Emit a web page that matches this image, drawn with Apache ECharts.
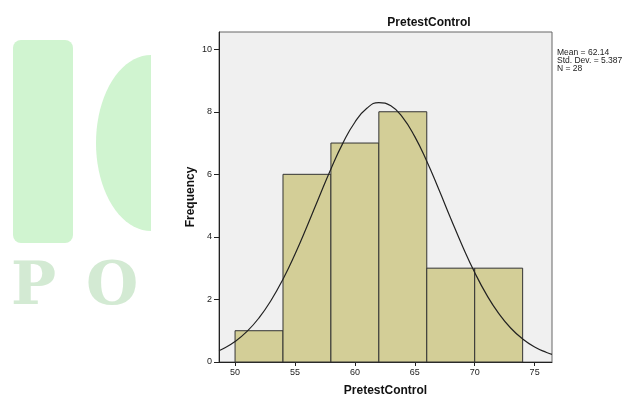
<!DOCTYPE html>
<html>
<head>
<meta charset="utf-8">
<script src="https://cdn.jsdelivr.net/npm/echarts@6/dist/echarts.min.js"></script>
<style>
html,body{margin:0;padding:0;background:#fff;}
#c{width:625px;height:396px;}
</style>
</head>
<body>
<div id="c"></div>
<script>
// Histogram bins
var binStart = [50, 54, 58, 62, 66, 70];
var binEnd   = [54, 58, 62, 66, 70, 74];
var frequency = [1, 6, 7, 8, 3, 3];
// Normal curve
var curveX = [48.66, 49, 50, 51, 52, 53, 54, 55, 56, 57, 58, 59, 60, 61, 62, 63, 64, 65, 66, 67, 68, 69, 70, 71, 72, 73, 74, 75, 76, 76.45];
var curveY = [0.363, 0.423, 0.655, 0.978, 1.411, 1.966, 2.648, 3.446, 4.332, 5.261, 6.173, 6.998, 7.665, 8.111, 8.292, 8.189, 7.814, 7.204, 6.417, 5.521, 4.590, 3.687, 2.861, 2.145, 1.554, 1.087, 0.735, 0.480, 0.303, 0.243];
var xTicks = [50, 55, 60, 65, 70, 75];
var yTicks = [0, 2, 4, 6, 8, 10];
var statsLines = ['Mean = 62.14', 'Std. Dev. = 5.387', 'N = 28'];

var barData = binStart.map(function (s, i) { return [s, binEnd[i], frequency[i]]; });
var curveData = curveX.map(function (x, i) { return [x, curveY[i]]; });

// decorative watermark half-ellipse outline
var wmPts = [];
for (var k = 0; k <= 40; k++) {
  var a = Math.PI / 2 + Math.PI * k / 40;
  wmPts.push([151 + 55 * Math.cos(a), 143 - 88 * Math.sin(a)]);
}

var chart = echarts.init(document.getElementById('c'));
var font = 'Liberation Sans, Arial, sans-serif';
chart.setOption({
  animation: false,
  backgroundColor: '#ffffff',
  title: {
    text: 'PretestControl',
    left: 424, top: 12, textAlign: 'center',
    textStyle: { fontFamily: font, fontSize: 12, fontWeight: 'bold', color: '#111' }
  },
  grid: {
    left: 219, right: 73, top: 32, bottom: 34,
    containLabel: false, outerBoundsMode: 'none',
    show: true, backgroundColor: '#f0f0f0', borderColor: '#666', borderWidth: 1
  },
  xAxis: {
    type: 'value', min: 48.66, max: 76.45,
    name: 'PretestControl', nameLocation: 'middle', nameGap: 23, nameMoveOverlap: false,
    nameTextStyle: { fontFamily: font, fontSize: 12, fontWeight: 'bold', color: '#111' },
    axisLine: { show: true, lineStyle: { color: '#222', width: 1 } },
    axisTick: { show: true, length: 4, lineStyle: { color: '#222' }, customValues: xTicks },
    axisLabel: { fontFamily: font, fontSize: 9, color: '#222', margin: 6, customValues: xTicks },
    splitLine: { show: false }
  },
  yAxis: {
    type: 'value', min: 0, max: 10.55,
    name: 'Frequency', nameLocation: 'middle', nameGap: 22, nameMoveOverlap: false,
    nameTextStyle: { fontFamily: font, fontSize: 12, fontWeight: 'bold', color: '#111' },
    axisLine: { show: true, lineStyle: { color: '#222', width: 1 } },
    axisTick: { show: true, length: 5, lineStyle: { color: '#222' }, customValues: yTicks },
    axisLabel: { fontFamily: font, fontSize: 9, color: '#222', margin: 7, customValues: yTicks },
    splitLine: { show: false }
  },
  graphic: [
    { type: 'rect', shape: { x: 13, y: 40, width: 60, height: 203, r: 8 }, style: { fill: '#d0f4d0' }, z: -10 },
    { type: 'polygon', shape: { points: wmPts }, style: { fill: '#d0f4d0' }, z: -10 },
    { type: 'text', left: 11, top: 258, style: { text: 'P', fontFamily: 'DejaVu Serif', fontWeight: 'bold', fontSize: 60, fill: '#d3ead3' }, z: -10 },
    { type: 'text', left: 86, top: 258, style: { text: 'O', fontFamily: 'DejaVu Serif', fontWeight: 'bold', fontSize: 60, fill: '#d3ead3' }, z: -10 },
    { type: 'text', left: 557, top: 48, style: { text: statsLines.join('\n'), fontFamily: font, fontSize: 8.5, lineHeight: 8, fill: '#222' } }
  ],
  series: [
    {
      type: 'custom',
      data: barData,
      encode: { x: [0, 1], y: 2 },
      renderItem: function (params, api) {
        var p0 = api.coord([api.value(0), api.value(2)]);
        var p1 = api.coord([api.value(1), 0]);
        return {
          type: 'rect',
          shape: { x: p0[0], y: p0[1], width: p1[0] - p0[0], height: p1[1] - p0[1] },
          style: { fill: '#d3ce97', stroke: '#333', lineWidth: 1 }
        };
      },
      z: 2
    },
    {
      type: 'line',
      data: curveData,
      smooth: true,
      showSymbol: false,
      lineStyle: { color: '#222', width: 1.2 },
      z: 3
    }
  ]
});
</script>
</body>
</html>
